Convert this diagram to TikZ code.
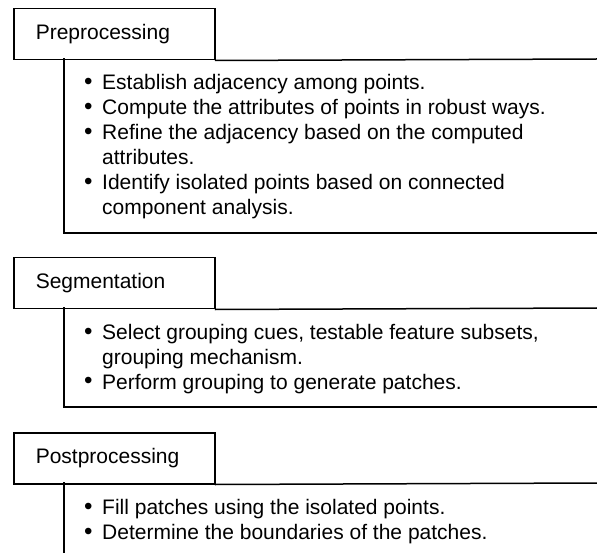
\documentclass[tikz,border=0pt]{standalone}
\usepackage{fontspec}
\setmainfont{Liberation Sans}
\usepackage{array}
\tikzset{
  ln/.style={line width=1.5pt, line cap=rect},
  hdr/.style={draw, line width=1.5pt, anchor=north west, minimum width=201pt, minimum height=51pt,
    text width=157pt, inner xsep=22pt, inner ysep=0pt, align=left,
    font=\fontsize{21}{25}\selectfont},
  lst/.style={anchor=base west, inner sep=0pt, font=\fontsize{21}{25}\selectfont}
}
\newcommand{\bu}{\makebox[18pt][l]{\scalebox{1.15}{\textbullet}}}
\begin{document}
\begin{tikzpicture}[x=1pt,y=1pt]
\useasboundingbox (0,0) rectangle (597,-553);
% ---------- Preprocessing ----------
\node[hdr] (h1) at (13,-8) {Preprocessing};
\coordinate (t1) at (597,-59);
\coordinate (l1) at (64,-59);
\coordinate (b1) at (597,-233);
\draw[ln] (h1.south east) -- (t1);
\draw[ln] (l1) |- (b1);
\node[lst] (L1) at (84,-90) {\begin{tabular}[t]{@{}l@{}l@{}}
\bu & Establish adjacency among points.\\
\bu & Compute the attributes of points in robust ways.\\
\bu & Refine the adjacency based on the computed\\
    & attributes.\\
\bu & Identify isolated points based on connected\\
    & component analysis.
\end{tabular}};
% ---------- Segmentation ----------
\node[hdr] (h2) at (13,-257) {Segmentation};
\coordinate (t2) at (597,-308);
\coordinate (l2) at (64,-308);
\coordinate (b2) at (597,-407);
\draw[ln] (h2.south east) -- (t2);
\draw[ln] (l2) |- (b2);
\node[lst] (L2) at (84,-339) {\begin{tabular}[t]{@{}l@{}l@{}}
\bu & Select grouping cues, testable feature subsets,\\
    & grouping mechanism.\\
\bu & Perform grouping to generate patches.
\end{tabular}};
% ---------- Postprocessing ----------
\node[hdr] (h3) at (13,-432) {Postprocessing};
\coordinate (t3) at (597,-483);
\coordinate (l3) at (64,-483);
\coordinate (b3) at (64,-553);
\draw[ln] (h3.south east) -- (t3);
\draw[ln] (l3) -- (b3);
\node[lst] (L3) at (84,-514) {\begin{tabular}[t]{@{}l@{}l@{}}
\bu & Fill patches using the isolated points.\\
\bu & Determine the boundaries of the patches.
\end{tabular}};
\end{tikzpicture}
\end{document}
